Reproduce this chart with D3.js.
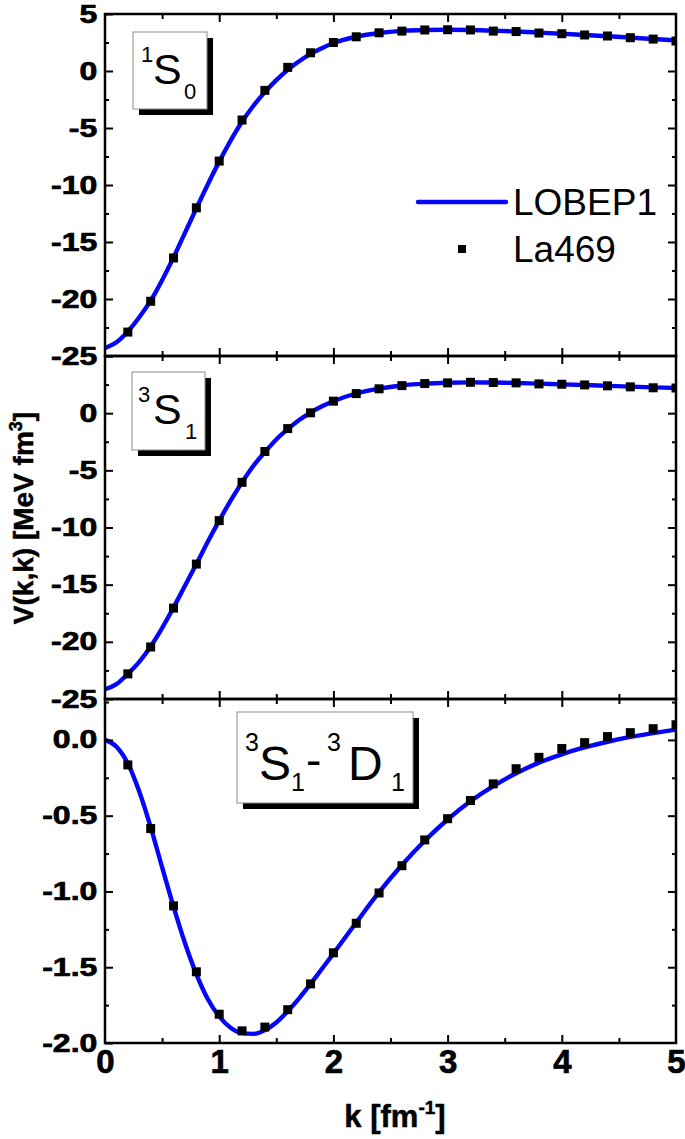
<!DOCTYPE html>
<html>
<head>
<meta charset="utf-8">
<script src="https://cdn.jsdelivr.net/npm/d3@7"></script>
<style>
  body { margin: 0; background: #fff; }
  svg { display: block; font-family: 'Liberation Sans', Arial, sans-serif; }
</style>
</head>
<body>
<svg id="chart" width="685" height="1139"></svg>
<script>
// k grid of the LOBEP1 curves and of the La469 points [fm^-1]
const kLine = [0, 0.1, 0.2, 0.3, 0.4, 0.5, 0.6, 0.7, 0.8, 0.9, 1.0, 1.1, 1.2, 1.3, 1.4, 1.5, 1.6, 1.7, 1.8, 1.9, 2.0,
  2.2, 2.4, 2.6, 2.8, 3.0, 3.2, 3.4, 3.6, 3.8, 4.0, 4.2, 4.4, 4.6, 4.8, 5.0];
const kPoints = [0.2, 0.4, 0.6, 0.8, 1.0, 1.2, 1.4, 1.6, 1.8, 2.0, 2.2, 2.4, 2.6, 2.8, 3.0, 3.2, 3.4, 3.6, 3.8, 4.0,
  4.2, 4.4, 4.6, 4.8, 5.0];

// LOBEP1 V(k,k) [MeV fm^3]
const lobepS0 = [-24.3, -23.8, -22.85, -21.6, -20.15, -18.35, -16.35, -14.2, -12.05, -9.95, -7.95, -6.1, -4.45,
  -3.05, -1.85, -0.8, 0.1, 0.85, 1.5, 2.0, 2.45, 3.0, 3.33, 3.52, 3.6, 3.62, 3.6, 3.54, 3.46, 3.37, 3.27, 3.16,
  3.05, 2.93, 2.81, 2.68];
const lobepS1 = [-24.15, -23.7, -22.8, -21.75, -20.4, -18.8, -17.0, -15.1, -13.2, -11.25, -9.4, -7.65, -6.05,
  -4.6, -3.4, -2.3, -1.4, -0.6, 0.05, 0.6, 1.05, 1.72, 2.14, 2.42, 2.58, 2.66, 2.69, 2.68, 2.64, 2.58, 2.52, 2.46,
  2.39, 2.32, 2.26, 2.2];
const lobepSD = [0, -0.045, -0.155, -0.34, -0.575, -0.84, -1.1, -1.34, -1.545, -1.71, -1.825, -1.9, -1.935,
  -1.94, -1.915, -1.865, -1.79, -1.705, -1.61, -1.51, -1.41, -1.205, -1.005, -0.825, -0.665, -0.525, -0.405,
  -0.305, -0.22, -0.15, -0.095, -0.05, -0.012, 0.02, 0.045, 0.068];

// La469 V(k,k) [MeV fm^3]
const la469S0 = [-22.9, -20.2, -16.4, -12.0, -7.9, -4.3, -1.7, 0.32, 1.6, 2.5, 3.0, 3.35, 3.5, 3.6, 3.62, 3.6,
  3.5, 3.46, 3.33, 3.27, 3.16, 3.07, 2.92, 2.8, 2.63];
const la469S1 = [-22.8, -20.45, -17.05, -13.2, -9.4, -6.05, -3.35, -1.35, 0.03, 1.05, 1.71, 2.13, 2.41, 2.59,
  2.65, 2.7, 2.68, 2.65, 2.56, 2.53, 2.47, 2.39, 2.3, 2.22, 2.2];
const la469SD = [-0.165, -0.585, -1.095, -1.53, -1.81, -1.92, -1.895, -1.78, -1.61, -1.405, -1.21, -1.01, -0.83,
  -0.66, -0.52, -0.4, -0.29, -0.19, -0.115, -0.057, -0.018, 0.022, 0.048, 0.074, 0.1];

// ticks
const xMajor = [0, 1, 2, 3, 4, 5];
const xMinor = [0.5, 1.5, 2.5, 3.5, 4.5];
const sMajor = [-25, -20, -15, -10, -5, 0, 5];
const sMinor = [-22.5, -17.5, -12.5, -7.5, -2.5, 2.5];
const sLabelsTop = [-25, -20, -15, -10, -5, 0, 5];
const sLabelsMid = [-25, -20, -15, -10, -5, 0];
const sdMajor = [-2.0, -1.5, -1.0, -0.5, 0.0];
const sdMinor = [-1.75, -1.25, -0.75, -0.25, 0.25];

const seriesNames = ['LOBEP1', 'La469'];

const left = 105;
const right = 676;
const blue = '#0505fa';
const stretch = 1.28;

const svg = d3.select('#chart');

const x = d3.scaleLinear()
  .domain([0, 5])
  .range([left, right]);

const panels = [
  {
    id: 's0', top: 14, bottom: 356, domain: [-25, 5], major: sMajor, minor: sMinor,
    labels: sLabelsTop, fmt: d => `${d}`, line: lobepS0, points: la469S0,
    box: { x: 133, y: 32, w: 74, h: 77 },
    parts: [
      { t: '1', x: 141, y: 62, size: 22 },
      { t: 'S', x: 153, y: 84, size: 43 },
      { t: '0', x: 184, y: 99, size: 22 },
    ],
  },
  {
    id: 's1', top: 356, bottom: 699, domain: [-25, 5], major: sMajor, minor: sMinor,
    labels: sLabelsMid, fmt: d => `${d}`, line: lobepS1, points: la469S1,
    box: { x: 132, y: 372, w: 73, h: 78 },
    parts: [
      { t: '3', x: 138, y: 402, size: 22 },
      { t: 'S', x: 153, y: 424, size: 43 },
      { t: '1', x: 185, y: 439, size: 22 },
    ],
  },
  {
    id: 'sd', top: 699, bottom: 1043, domain: [-2.0, 0.27], major: sdMajor, minor: sdMinor,
    labels: sdMajor, fmt: d => d.toFixed(1), line: lobepSD, points: la469SD,
    box: { x: 237, y: 712, w: 176, h: 91 },
    parts: [
      { t: '3', x: 245, y: 751, size: 25 },
      { t: 'S', x: 259, y: 780, size: 48 },
      { t: '1', x: 291, y: 791, size: 25 },
      { t: '-', x: 306, y: 776, size: 46 },
      { t: '3', x: 327, y: 751, size: 25 },
      { t: 'D', x: 348, y: 780, size: 48 },
      { t: '1', x: 391, y: 791, size: 25 },
    ],
  },
];

function styleTicks(g, width) {
  g.select('.domain').remove();
  g.selectAll('.tick line')
    .attr('stroke', '#000')
    .attr('stroke-width', width);
}

function heavyText(sel, size, scaleX) {
  sel.attr('fill', '#000')
    .attr('stroke', '#000')
    .attr('stroke-width', 0.7)
    .attr('font-family', "'Liberation Sans', Arial, sans-serif")
    .attr('font-weight', 'bold')
    .attr('font-size', size)
    .attr('transform', `scale(${scaleX},1)`);
}

panels.forEach((p) => {
  const y = d3.scaleLinear()
    .domain(p.domain)
    .range([p.bottom, p.top]);

  svg.append('clipPath')
    .attr('id', `clip-${p.id}`)
    .append('rect')
    .attr('x', left)
    .attr('y', p.top)
    .attr('width', right - left)
    .attr('height', p.bottom - p.top);

  const plot = svg.append('g')
    .attr('clip-path', `url(#clip-${p.id})`);

  const line = d3.line()
    .x((d, i) => x(kLine[i]))
    .y(d => y(d))
    .curve(d3.curveMonotoneX);

  plot.append('path')
    .datum(p.line)
    .attr('d', line)
    .attr('fill', 'none')
    .attr('stroke', blue)
    .attr('stroke-width', 4.4)
    .attr('stroke-linecap', 'round');

  plot.selectAll('rect.pt')
    .data(p.points)
    .enter()
    .append('rect')
    .attr('class', 'pt')
    .attr('x', (d, i) => x(kPoints[i]) - 4.5)
    .attr('y', d => y(d) - 4.5)
    .attr('width', 9)
    .attr('height', 9)
    .attr('fill', '#000');

  // ticks on all four sides, pointing inwards
  svg.append('g')
    .attr('transform', `translate(${left},0)`)
    .call(d3.axisLeft(y).tickValues(p.minor).tickSize(-4).tickFormat(''))
    .call(styleTicks, 2);
  svg.append('g')
    .attr('transform', `translate(${right},0)`)
    .call(d3.axisRight(y).tickValues(p.minor).tickSize(-4).tickFormat(''))
    .call(styleTicks, 2);
  svg.append('g')
    .attr('transform', `translate(${right},0)`)
    .call(d3.axisRight(y).tickValues(p.major.filter(v => v > p.domain[0] && v < p.domain[1]))
      .tickSize(-8).tickFormat(''))
    .call(styleTicks, 2);
  svg.append('g')
    .attr('transform', `translate(0,${p.top})`)
    .call(d3.axisTop(x).tickValues(xMinor).tickSize(-5).tickFormat(''))
    .call(styleTicks, 2);
  svg.append('g')
    .attr('transform', `translate(0,${p.top})`)
    .call(d3.axisTop(x).tickValues(xMajor.slice(1, -1)).tickSize(-8).tickFormat(''))
    .call(styleTicks, 2);
  svg.append('g')
    .attr('transform', `translate(0,${p.bottom})`)
    .call(d3.axisBottom(x).tickValues(xMinor).tickSize(-5).tickFormat(''))
    .call(styleTicks, 2);
  svg.append('g')
    .attr('transform', `translate(0,${p.bottom})`)
    .call(d3.axisBottom(x).tickValues(xMajor.slice(1, -1)).tickSize(-8).tickFormat(''))
    .call(styleTicks, 2);

  const yAxis = svg.append('g')
    .attr('transform', `translate(${left},0)`)
    .call(d3.axisLeft(y)
      .tickValues(p.major.filter(v => v >= p.domain[0] && v <= p.domain[1]))
      .tickSize(-8)
      .tickPadding(6)
      .tickFormat(d => (p.labels.includes(d) ? p.fmt(d) : '')))
    .call(styleTicks, 2);
  yAxis.selectAll('.tick text')
    .call(heavyText, 25, stretch);

  // frame
  svg.append('rect')
    .attr('x', left)
    .attr('y', p.top)
    .attr('width', right - left)
    .attr('height', p.bottom - p.top)
    .attr('fill', 'none')
    .attr('stroke', '#000')
    .attr('stroke-width', 2.5);

  // partial wave label box with drop shadow
  svg.append('rect')
    .attr('x', p.box.x + 6)
    .attr('y', p.box.y + 6)
    .attr('width', p.box.w)
    .attr('height', p.box.h)
    .attr('fill', '#000');
  svg.append('rect')
    .attr('x', p.box.x)
    .attr('y', p.box.y)
    .attr('width', p.box.w)
    .attr('height', p.box.h)
    .attr('fill', '#fff')
    .attr('stroke', '#8a8a8a')
    .attr('stroke-width', 1);
  svg.append('g')
    .selectAll('text')
    .data(p.parts)
    .enter()
    .append('text')
    .attr('x', d => d.x)
    .attr('y', d => d.y)
    .attr('font-size', d => d.size)
    .attr('fill', '#000')
    .text(d => d.t);
});

// x tick labels under the last panel
const xAxis = svg.append('g')
  .attr('transform', 'translate(0,1043)')
  .call(d3.axisBottom(x).tickValues(xMajor).tickSize(0).tickPadding(7).tickFormat(d => `${d}`));
xAxis.select('.domain').remove();
xAxis.selectAll('.tick text')
  .call(heavyText, 33, 1.0);

// legend
svg.append('line')
  .attr('x1', 418)
  .attr('x2', 506)
  .attr('y1', 202)
  .attr('y2', 202)
  .attr('stroke', blue)
  .attr('stroke-width', 4.4)
  .attr('stroke-linecap', 'round');
svg.append('rect')
  .attr('x', 458)
  .attr('y', 245)
  .attr('width', 8)
  .attr('height', 8)
  .attr('fill', '#000');
svg.selectAll('text.legend')
  .data(seriesNames)
  .enter()
  .append('text')
  .attr('class', 'legend')
  .attr('x', 513)
  .attr('y', (d, i) => 215 + i * 47)
  .attr('font-size', 37)
  .attr('fill', '#000')
  .text(d => d);

// axis titles
const yTitle = svg.append('text')
  .attr('transform', 'translate(33,518) rotate(-90)')
  .attr('text-anchor', 'middle')
  .attr('font-weight', 'bold')
  .attr('font-size', 28)
  .attr('stroke', '#000')
  .attr('stroke-width', 0.5)
  .attr('fill', '#000');
yTitle.append('tspan').text('V(k,k) [MeV fm');
yTitle.append('tspan').attr('font-size', 18).attr('dy', -11).text('3');
yTitle.append('tspan').attr('dy', 11).text(']');

const xTitle = svg.append('text')
  .attr('x', 395)
  .attr('y', 1127)
  .attr('text-anchor', 'middle')
  .attr('font-weight', 'bold')
  .attr('font-size', 31)
  .attr('stroke', '#000')
  .attr('stroke-width', 0.5)
  .attr('fill', '#000');
xTitle.append('tspan').text('k [fm');
xTitle.append('tspan').attr('font-size', 19).attr('dy', -13).text('-1');
xTitle.append('tspan').attr('dy', 13).text(']');
</script>
</body>
</html>
